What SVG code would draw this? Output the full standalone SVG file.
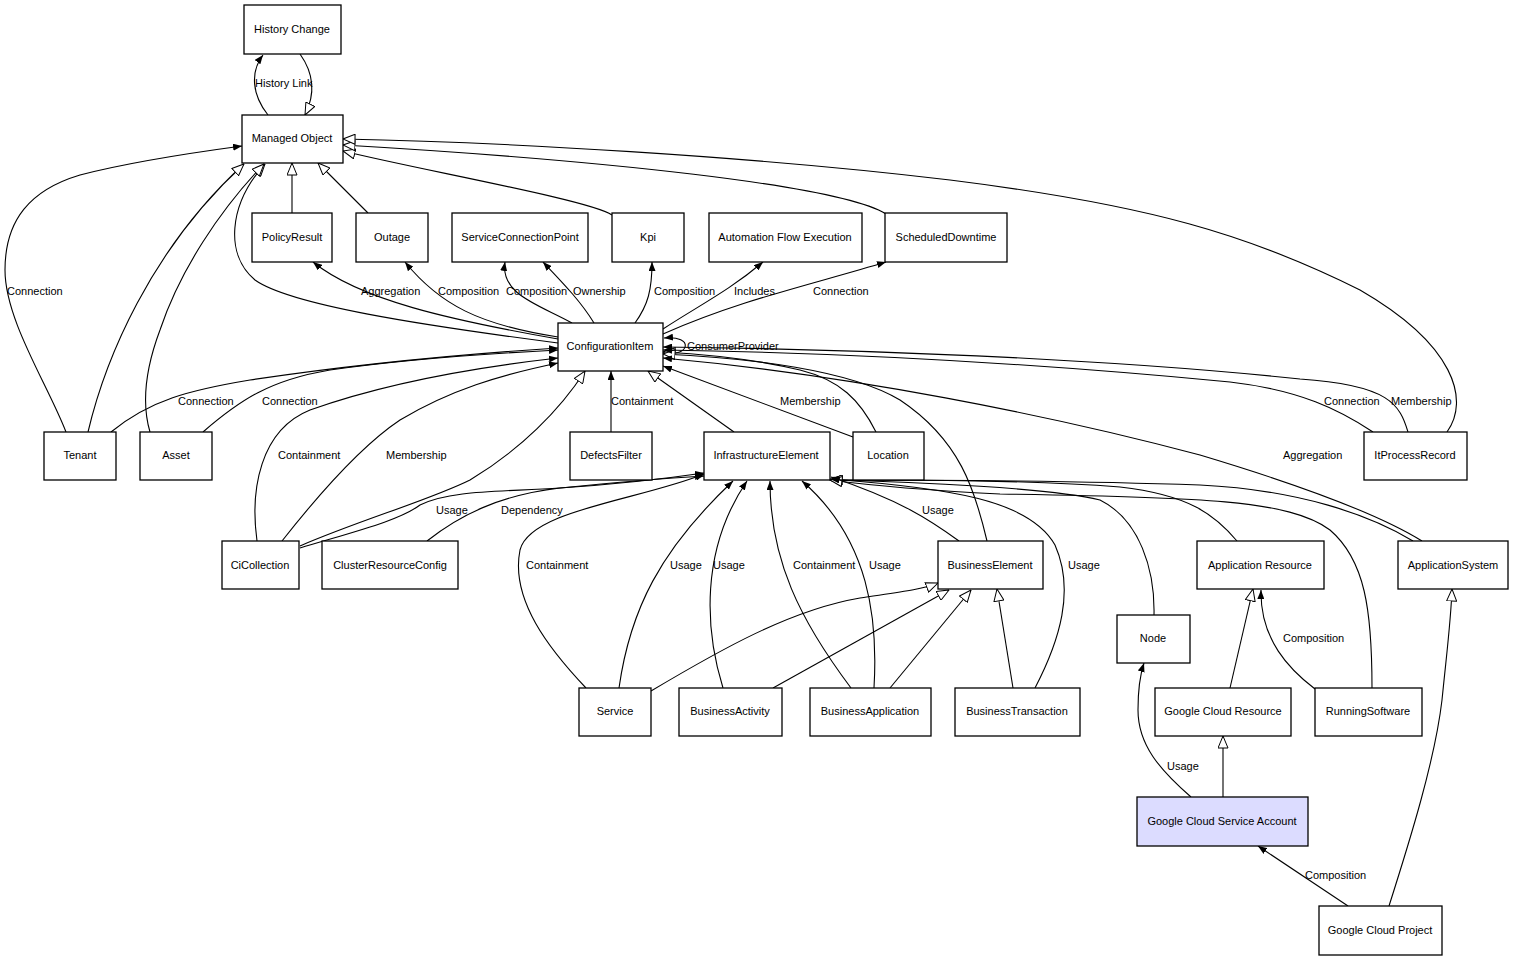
<svg xmlns="http://www.w3.org/2000/svg" width="1515" height="961" viewBox="0 0 1515 961">
<style>
.n rect{fill:#fff;stroke:#000;stroke-width:1.3}
.n text,.l{font-family:"Liberation Sans",Arial,sans-serif;font-size:11px;fill:#000}
.n text{text-anchor:middle}
.e path{fill:none;stroke:#000;stroke-width:1.1}
.a{marker-end:url(#fa)}
.g{marker-end:url(#ga)}
</style>
<defs>
<marker id="fa" viewBox="0 0 9 7" refX="9" refY="3.5" markerWidth="9" markerHeight="7" markerUnits="userSpaceOnUse" orient="auto"><path d="M0,0 L9,3.5 L0,7 z" fill="#000"/></marker>
<marker id="ga" viewBox="0 0 13 11" refX="12.5" refY="5.5" markerWidth="13" markerHeight="11" markerUnits="userSpaceOnUse" orient="auto"><path d="M0.5,0.5 L12.5,5.5 L0.5,10.5 z" fill="#fff" stroke="#000" stroke-width="1"/></marker>
</defs>
<rect width="1515" height="961" fill="#fff"/>
<g class="e" id="connectors">
<path class="a" d="M268,115 C252,95 250,72 263,55"/>
<path class="g" d="M300,54 C315,75 315,95 305,115"/>
<path class="g" d="M292,213 L292,163"/>
<path class="g" d="M368,213 L318,163"/>
<path class="g" d="M612,215 C590,200 420,170 343,151"/>
<path class="g" d="M886,214 C840,185 600,160 343,145"/>
<path class="g" d="M1447,432 C1470,400 1455,345 1360,290 C1250,235 1150,205 950,180 C750,156 500,142 343,139"/>
<path class="g" d="M558,343 C420,325 290,305 255,280 C225,255 228,205 265,164"/>
<path class="g" d="M88,432 C105,360 150,250 244,164"/>
<path class="a" d="M66,432 C48,385 5,320 5,270 C5,220 30,190 80,175 C130,162 190,153 242,146"/>
<path class="g" d="M150,432 C142,405 145,370 160,330 C180,270 220,210 264,164"/>
<path class="a" d="M558,339 C450,320 360,300 313,262"/>
<path class="a" d="M558,337 C480,325 440,305 405,262"/>
<path class="a" d="M572,323 C540,305 500,295 505,262"/>
<path class="a" d="M594,323 C580,300 560,280 543,262"/>
<path class="a" d="M635,323 C648,305 652,290 652,262"/>
<path class="a" d="M663,329 C700,305 730,290 763,262"/>
<path class="a" d="M663,334 C740,300 810,285 886,262"/>
<path class="a" d="M663,353 C690,358 695,335 664,338"/>
<path class="a" d="M111,432 C150,400 190,390 250,380 C350,365 450,355 558,348"/>
<path class="a" d="M203,432 C240,400 270,380 330,370 C400,360 480,354 558,350"/>
<path class="a" d="M257,541 C250,490 260,430 310,410 C380,385 470,368 558,358"/>
<path class="a" d="M282,541 C330,480 370,440 400,420 C450,390 500,375 558,363"/>
<path class="g" d="M300,546 C360,520 430,500 470,480 C520,450 560,410 585,371"/>
<path class="a" d="M300,548 C360,530 400,520 420,505 C450,490 500,492 560,488 C620,484 670,478 704,473"/>
<path class="a" d="M427,541 C460,515 500,495 560,488 C620,482 670,478 704,476"/>
<path class="a" d="M611,432 L611,371"/>
<path class="g" d="M734,432 L648,371"/>
<path class="a" d="M853,437 L663,366"/>
<path class="g" d="M876,432 C860,400 840,380 800,370 C750,358 700,354 663,352"/>
<path class="g" d="M987,541 C975,490 960,440 900,400 C850,370 750,358 663,354"/>
<path class="a" d="M1373,432 C1340,410 1300,390 1230,382 C1000,360 800,352 663,350"/>
<path class="a" d="M1408,432 C1400,405 1390,385 1300,379 C1100,358 850,349 663,347"/>
<path class="a" d="M1422,541 C1380,515 1300,485 1200,455 C1050,415 850,375 663,358"/>
<path class="g" d="M1413,541 C1370,515 1300,490 1200,485 C1050,480 900,480 830,480"/>
<path class="g" d="M1154,615 C1155,570 1140,520 1100,500 C1050,488 920,482 830,480"/>
<path class="g" d="M1237,541 C1215,515 1190,495 1120,487 C1030,480 920,480 830,480"/>
<path class="g" d="M1372,688 C1372,610 1365,560 1330,530 C1290,500 1200,497 1000,494 C920,490 860,484 830,480"/>
<path class="a" d="M1035,688 C1060,640 1075,590 1055,545 C1030,500 950,488 830,479"/>
<path class="a" d="M959,541 C930,520 900,500 831,477"/>
<path class="a" d="M586,688 C550,650 510,600 520,550 C530,510 640,500 704,474"/>
<path class="a" d="M619,688 C630,610 660,550 733,481"/>
<path class="a" d="M723,688 C705,630 700,550 747,481"/>
<path class="a" d="M851,688 C800,620 770,560 770,481"/>
<path class="a" d="M874,688 C878,620 870,540 802,481"/>
<path class="g" d="M651,691 C720,650 790,610 860,598 C900,592 920,590 938,583"/>
<path class="g" d="M773,688 L949,590"/>
<path class="g" d="M890,688 L971,590"/>
<path class="g" d="M1013,688 L997,589"/>
<path class="g" d="M1230,688 L1253,589"/>
<path class="a" d="M1315,689 C1290,670 1260,640 1261,590"/>
<path class="g" d="M1223,797 L1223,736"/>
<path class="a" d="M1191,797 C1160,770 1138,745 1138,710 C1138,690 1140,675 1144,663"/>
<path class="a" d="M1348,906 L1258,846"/>
<path class="g" d="M1389,906 C1410,840 1435,760 1442,700 C1447,650 1451,620 1452,589"/>
</g>
<g id="labels">
<text class="l" x="255" y="87">History Link</text>
<text class="l" x="7" y="295">Connection</text>
<text class="l" x="361" y="295">Aggregation</text>
<text class="l" x="438" y="295">Composition</text>
<text class="l" x="506" y="295">Composition</text>
<text class="l" x="573" y="295">Ownership</text>
<text class="l" x="654" y="295">Composition</text>
<text class="l" x="734" y="295">Includes</text>
<text class="l" x="813" y="295">Connection</text>
<text class="l" x="687" y="350">ConsumerProvider</text>
<text class="l" x="178" y="405">Connection</text>
<text class="l" x="262" y="405">Connection</text>
<text class="l" x="611" y="405">Containment</text>
<text class="l" x="780" y="405">Membership</text>
<text class="l" x="1324" y="405">Connection</text>
<text class="l" x="1391" y="405">Membership</text>
<text class="l" x="278" y="459">Containment</text>
<text class="l" x="386" y="459">Membership</text>
<text class="l" x="1283" y="459">Aggregation</text>
<text class="l" x="436" y="514">Usage</text>
<text class="l" x="501" y="514">Dependency</text>
<text class="l" x="922" y="514">Usage</text>
<text class="l" x="526" y="569">Containment</text>
<text class="l" x="670" y="569">Usage</text>
<text class="l" x="713" y="569">Usage</text>
<text class="l" x="793" y="569">Containment</text>
<text class="l" x="869" y="569">Usage</text>
<text class="l" x="1068" y="569">Usage</text>
<text class="l" x="1283" y="642">Composition</text>
<text class="l" x="1167" y="770">Usage</text>
<text class="l" x="1305" y="879">Composition</text>
</g>
<g class="n" id="HistoryChange"><rect x="244" y="5" width="97" height="49"/><text x="292" y="33">History Change</text></g>
<g class="n" id="ManagedObject"><rect x="242" y="115" width="101" height="48"/><text x="292" y="142">Managed Object</text></g>
<g class="n" id="PolicyResult"><rect x="252" y="213" width="80" height="49"/><text x="292" y="241">PolicyResult</text></g>
<g class="n" id="Outage"><rect x="356" y="213" width="72" height="49"/><text x="392" y="241">Outage</text></g>
<g class="n" id="ServiceConnectionPoint"><rect x="452" y="213" width="136" height="49"/><text x="520" y="241">ServiceConnectionPoint</text></g>
<g class="n" id="Kpi"><rect x="612" y="213" width="72" height="49"/><text x="648" y="241">Kpi</text></g>
<g class="n" id="AutomationFlowExecution"><rect x="709" y="213" width="153" height="49"/><text x="785" y="241">Automation Flow Execution</text></g>
<g class="n" id="ScheduledDowntime"><rect x="885" y="213" width="122" height="49"/><text x="946" y="241">ScheduledDowntime</text></g>
<g class="n" id="ConfigurationItem"><rect x="558" y="323" width="105" height="48"/><text x="610" y="350">ConfigurationItem</text></g>
<g class="n" id="Tenant"><rect x="44" y="432" width="72" height="48"/><text x="80" y="459">Tenant</text></g>
<g class="n" id="Asset"><rect x="140" y="432" width="72" height="48"/><text x="176" y="459">Asset</text></g>
<g class="n" id="DefectsFilter"><rect x="570" y="432" width="82" height="48"/><text x="611" y="459">DefectsFilter</text></g>
<g class="n" id="InfrastructureElement"><rect x="704" y="432" width="126" height="48"/><text x="766" y="459">InfrastructureElement</text></g>
<g class="n" id="Location"><rect x="853" y="432" width="71" height="48"/><text x="888" y="459">Location</text></g>
<g class="n" id="ItProcessRecord"><rect x="1364" y="432" width="103" height="48"/><text x="1415" y="459">ItProcessRecord</text></g>
<g class="n" id="CiCollection"><rect x="222" y="541" width="77" height="48"/><text x="260" y="569">CiCollection</text></g>
<g class="n" id="ClusterResourceConfig"><rect x="322" y="541" width="136" height="48"/><text x="390" y="569">ClusterResourceConfig</text></g>
<g class="n" id="BusinessElement"><rect x="938" y="541" width="105" height="48"/><text x="990" y="569">BusinessElement</text></g>
<g class="n" id="ApplicationResource"><rect x="1197" y="541" width="127" height="48"/><text x="1260" y="569">Application Resource</text></g>
<g class="n" id="ApplicationSystem"><rect x="1398" y="541" width="110" height="48"/><text x="1453" y="569">ApplicationSystem</text></g>
<g class="n" id="Node"><rect x="1117" y="615" width="73" height="48"/><text x="1153" y="642">Node</text></g>
<g class="n" id="Service"><rect x="579" y="688" width="72" height="48"/><text x="615" y="715">Service</text></g>
<g class="n" id="BusinessActivity"><rect x="679" y="688" width="103" height="48"/><text x="730" y="715">BusinessActivity</text></g>
<g class="n" id="BusinessApplication"><rect x="810" y="688" width="121" height="48"/><text x="870" y="715">BusinessApplication</text></g>
<g class="n" id="BusinessTransaction"><rect x="955" y="688" width="125" height="48"/><text x="1017" y="715">BusinessTransaction</text></g>
<g class="n" id="GoogleCloudResource"><rect x="1155" y="688" width="136" height="48"/><text x="1223" y="715">Google Cloud Resource</text></g>
<g class="n" id="RunningSoftware"><rect x="1315" y="688" width="107" height="48"/><text x="1368" y="715">RunningSoftware</text></g>
<g class="n" id="GoogleCloudServiceAccount"><rect x="1137" y="797" width="171" height="49" style="fill:#dcdcff"/><text x="1222" y="825">Google Cloud Service Account</text></g>
<g class="n" id="GoogleCloudProject"><rect x="1319" y="906" width="123" height="49"/><text x="1380" y="934">Google Cloud Project</text></g>
</svg>
